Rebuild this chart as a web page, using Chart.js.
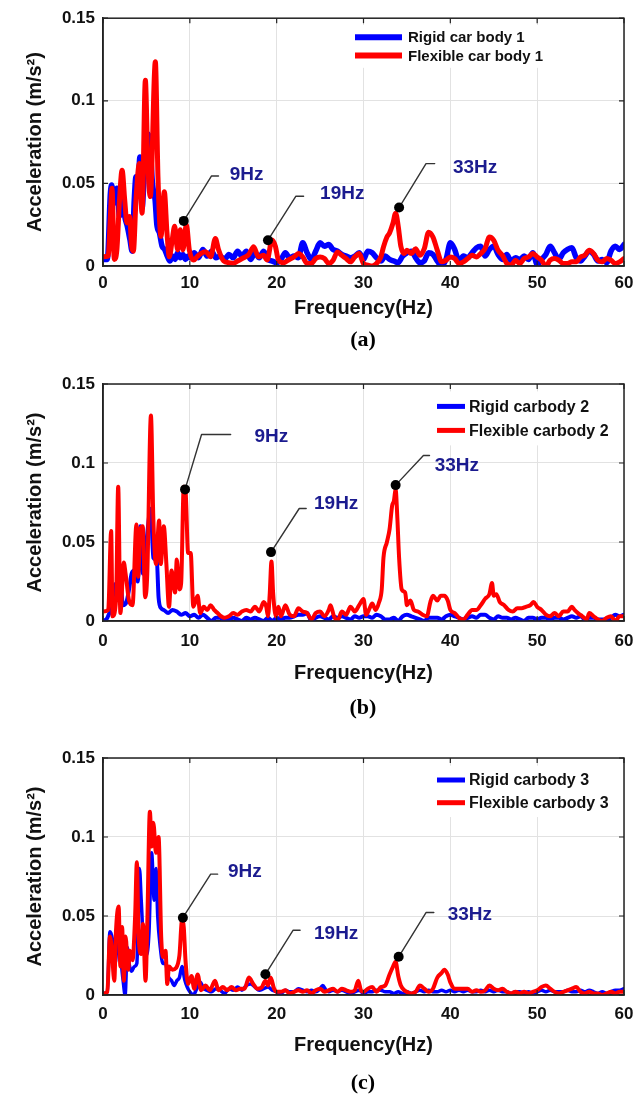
<!DOCTYPE html>
<html>
<head>
<meta charset="utf-8">
<script src="https://cdn.jsdelivr.net/npm/chart.js"></script>
<style>
  body { margin: 0; background: #fff; }
  #wrap { position: relative; width: 644px; height: 1096px; }
  canvas { position: absolute; left: 0; }
  .cap { position: absolute; left: 263px; width: 200px; text-align: center;
         font: bold 22px 'Liberation Serif', 'Times New Roman', serif; line-height: 24px; color: #000; }
</style>
</head>
<body>
<div id="wrap">
  <canvas id="ca" width="644" height="360" style="top:0"></canvas>
  <div class="cap" style="top:327px">(a)</div>
  <canvas id="cb" width="644" height="360" style="top:360px"></canvas>
  <div class="cap" style="top:695px">(b)</div>
  <canvas id="cc" width="644" height="376" style="top:720px"></canvas>
  <div class="cap" style="top:1070px">(c)</div>
</div>
<script>
// axis ticks
const freqTicks = [0, 10, 20, 30, 40, 50, 60];
const accTicks = [0, 0.05, 0.1, 0.15];
const accTickLabels = ['0', '0.05', '0.1', '0.15'];
const peakLabels = ['9Hz', '19Hz', '33Hz'];

// (a) [Hz, m/s^2]
const aNames = ['Rigid car body 1', 'Flexible car body 1'];
const aRigid = [[0,0.004],[0.5,0.004],[0.85,0.044],[1,0.049],[1.3,0.038],[1.6,0.047],[1.9,0.03],[2.2,0.045],[2.5,0.03],[2.8,0.024],[3.1,0.016],[3.35,0.009],[3.6,0.04],[3.8,0.054],[4,0.045],[4.25,0.066],[4.5,0.035],[4.8,0.06],[5.1,0.08],[5.4,0.075],[5.7,0.05],[6,0.04],[6.2,0.025],[6.5,0.02],[6.8,0.012],[7.1,0.01],[7.4,0.006],[7.7,0.003],[8,0.006],[8.3,0.004],[8.6,0.008],[8.9,0.005],[9.2,0.007],[9.5,0.004],[9.8,0.006],[10,0.005],[10.5,0.008],[11,0.005],[11.5,0.01],[12,0.006],[12.5,0.009],[13,0.005],[13.5,0.006],[14,0.004],[14.5,0.007],[15,0.005],[15.5,0.009],[16,0.006],[16.5,0.009],[17,0.004],[17.5,0.008],[18,0.005],[18.5,0.009],[19,0.004],[19.5,0.003],[20,0.002],[20.5,0.004],[21,0.008],[21.5,0.005],[22,0.006],[22.5,0.005],[23,0.014],[23.5,0.008],[24,0.004],[24.5,0.009],[25,0.014],[25.5,0.012],[26,0.013],[26.5,0.01],[27,0.009],[27.5,0.007],[28,0.006],[28.5,0.005],[29,0.006],[29.5,0.008],[30,0.004],[30.5,0.009],[31,0.008],[31.5,0.005],[32,0.003],[32.5,0.006],[33,0.004],[33.5,0.003],[34,0.002],[34.5,0.006],[35,0.008],[35.5,0.009],[36,0.005],[36.5,0.002],[37,0.003],[37.5,0.008],[38,0.007],[38.5,0.003],[39,0],[39.5,0.004],[40,0.014],[40.5,0.01],[41,0.003],[41.5,0.006],[42,0.005],[42.5,0.008],[43,0.011],[43.5,0.012],[44,0.006],[44.5,0.01],[45,0.012],[45.5,0.007],[46,0.004],[46.5,0.007],[47,0.003],[47.5,0.005],[48,0.004],[48.5,0.006],[49,0.004],[49.5,0.008],[50,0.001],[50.5,0.004],[51,0.007],[51.5,0.012],[52,0.008],[52.5,0.004],[53,0.008],[53.5,0.01],[54,0.011],[54.5,0.005],[55,0.003],[55.5,0.006],[56,0.009],[56.5,0.007],[57,0.003],[57.5,0.004],[58,0.002],[58.5,0.009],[59,0.012],[59.5,0.01],[60,0.013]];
const aFlex = [[0,0.0056],[0.6,0.006],[0.85,0.03],[1.04,0.047],[1.3,0.004],[1.6,0.01],[1.9,0.04],[2.2,0.058],[2.5,0.04],[2.76,0.026],[3.05,0.03],[3.3,0.012],[3.5,0.009],[3.8,0.04],[4.19,0.062],[4.5,0.032],[4.88,0.1125],[5.15,0.064],[5.45,0.042],[6.03,0.1236],[6.33,0.054],[6.68,0.018],[7.06,0.045],[7.37,0.02],[7.64,0.0056],[7.95,0.015],[8.25,0.024],[8.6,0.0097],[8.9,0.022],[9.2,0.0097],[9.6,0.025],[9.94,0.0097],[10.44,0.0036],[10.83,0.0056],[11.3,0.0077],[11.8,0.0087],[12.4,0.0056],[12.94,0.0167],[13.3,0.01],[13.9,0.003],[14.5,0.002],[15,0.0015],[15.5,0.003],[16.2,0.005],[16.8,0.007],[17.35,0.0117],[17.9,0.0056],[18.5,0.0065],[18.9,0.0036],[19.46,0.0157],[19.85,0.012],[20.2,0.0036],[20.8,0.002],[21.3,0.0035],[22,0.0055],[22.5,0.0075],[23,0.0055],[23.5,0.0015],[24,0.0015],[24.5,0.0045],[25,0.0055],[25.5,0.0045],[26,0.0015],[26.5,0.0035],[27,0.0085],[27.5,0.0065],[28,0.0045],[28.5,0.0025],[29,0.0055],[29.5,0.0075],[30,0.0015],[30.5,0.0005],[31,0],[31.5,0.0015],[32,0.0055],[32.3,0.0115],[32.7,0.0175],[33,0.02],[33.4,0.026],[33.7,0.032],[34,0.024],[34.3,0.012],[34.7,0.0075],[35,0.0095],[35.5,0.0075],[36,0.0105],[36.5,0.0065],[37,0.0105],[37.5,0.0205],[38,0.0175],[38.5,0.0095],[39,0.0025],[39.5,0.0035],[40,0.0055],[40.5,0.0045],[41,0.0015],[41.5,0.0025],[42,0.0045],[42.5,0.0065],[43,0.0055],[43.5,0.0075],[44,0.0105],[44.5,0.0175],[45,0.0155],[45.5,0.0095],[46,0.0065],[46.5,0.0015],[47,0.0005],[47.5,0.0035],[48,0.0015],[48.5,0.0045],[49,0.0055],[49.5,0.0075],[50,0.0055],[50.5,0.0035],[51,0],[51.5,0.0035],[52,0.0045],[52.5,0.0035],[53,0.0015],[53.5,0.0015],[54,0.0025],[54.5,0.0025],[55,0.0055],[55.5,0.0065],[56,0.0095],[56.5,0.0075],[57,0.0035],[57.5,0.0025],[58,0.0045],[58.5,0.0035],[59,0.0015],[59.5,0.0025],[60,0.0045]];
const aPeaks = [[9.3,0.0273],[19.0,0.0156],[34.1,0.0354]];

// (b)
const bNames = ['Rigid carbody 2', 'Flexible carbody 2'];
const bRigid = [[0,0],[0.5,0.002],[1,0.01],[1.3,0.022],[1.6,0.024],[2,0.025],[2.3,0.01],[2.7,0.012],[3,0.02],[3.3,0.03],[3.6,0.032],[4,0.025],[4.3,0.06],[4.6,0.03],[5,0.05],[5.5,0.071],[5.8,0.04],[6.2,0.038],[6.4,0.015],[6.7,0.008],[7,0.007],[7.5,0.005],[8,0.007],[8.5,0.006],[9,0.004],[9.5,0.005],[10,0.003],[10.5,0.004],[11,0.002],[11.5,0.004],[12,0.002],[12.5,0],[13,0.002],[13.5,0.002],[14,0],[14.5,0.001],[15,0.002],[15.5,0.001],[16,0],[16.5,0.002],[17,0.001],[17.5,0.002],[18,0.001],[18.5,0],[19,0.002],[19.5,0],[20,0.002],[20.5,0.001],[21,0.002],[21.5,0.002],[22,0.003],[22.5,0.004],[23,0.004],[23.5,0.005],[24,0],[24.5,0.002],[25,0.003],[25.5,0.002],[26,0.001],[26.5,0.003],[27,0.002],[27.5,0.003],[28,0.002],[28.5,0.001],[29,0.003],[29.5,0.002],[30,0.003],[30.5,0.003],[31,0.002],[31.5,0.004],[32,0.003],[32.5,0.001],[33,0.001],[33.5,0.002],[34,0],[34.5,0.003],[35,0.004],[35.5,0.003],[36,0.002],[36.5,0.001],[37,0],[37.5,0.002],[38,0.002],[38.5,0.002],[39,0.001],[39.5,0.003],[40,0.004],[40.5,0.003],[41,0.002],[41.5,0.001],[42,0.002],[42.5,0.003],[43,0.002],[43.5,0.004],[44,0.004],[44.5,0.002],[45,0.001],[45.5,0.003],[46,0.002],[46.5,0.002],[47,0.001],[47.5,0.002],[48,0.001],[48.5,0],[49,0.002],[49.5,0.002],[50,0.001],[50.5,0.002],[51,0.002],[51.5,0.001],[52,0.002],[52.5,0.002],[53,0.001],[53.5,0.002],[54,0.003],[54.5,0.002],[55,0.003],[55.5,0.001],[56,0.002],[56.5,0.002],[57,0.001],[57.5,0.001],[58,0.001],[58.5,0.002],[59,0.004],[59.5,0.003],[60,0.004]];
const bFlex = [[0,0.006],[0.6,0.007],[0.94,0.057],[1.1,0.003],[1.5,0.013],[1.75,0.085],[2,0.005],[2.4,0.037],[2.6,0.03],[3,0.013],[3.4,0.01],[3.85,0.061],[4.05,0.028],[4.3,0.058],[4.58,0.06],[4.85,0.015],[5.1,0.03],[5.52,0.13],[5.8,0.064],[6.1,0.036],[6.46,0.0636],[6.65,0.036],[7,0.06],[7.3,0.036],[7.6,0.009],[7.9,0.032],[8.3,0.018],[8.5,0.039],[8.8,0.02],[9,0.024],[9.3,0.085],[9.5,0.083],[9.8,0.043],[10.1,0.043],[10.4,0.009],[10.9,0.016],[11.2,0.005],[11.6,0.009],[12,0.007],[12.4,0.01],[12.8,0.007],[13.2,0.005],[13.6,0.003],[14,0.002],[14.5,0.003],[15,0.005],[15.5,0.004],[16,0.006],[16.5,0.007],[17,0.006],[17.5,0.009],[18,0.006],[18.5,0.012],[18.8,0.009],[19,0.003],[19.2,0.017],[19.4,0.0376],[19.6,0.017],[19.9,0.003],[20.2,0.009],[20.5,0.003],[21,0.01],[21.5,0.004],[22,0.003],[22.5,0.008],[23,0.006],[23.5,0.005],[24,0.001],[24.5,0.005],[25,0.006],[25.5,0.003],[26,0.007],[26.2,0.01],[26.6,0.003],[27,0],[27.5,0.006],[28,0.004],[28.5,0.009],[29,0.006],[29.5,0.01],[30,0.014],[30.3,0.004],[30.7,0.008],[31,0.011],[31.4,0.007],[31.8,0.012],[32.1,0.02],[32.3,0.04],[32.7,0.05],[33,0.058],[33.3,0.073],[33.5,0.076],[33.7,0.083],[33.9,0.065],[34.1,0.04],[34.4,0.02],[34.8,0.018],[35,0.01],[35.4,0.013],[35.8,0.007],[36.3,0.006],[36.8,0.004],[37.3,0.003],[37.7,0.012],[38,0.016],[38.5,0.013],[38.9,0.016],[39.3,0.016],[39.7,0.013],[40,0.007],[40.5,0.005],[41,0.002],[41.5,0.001],[42,0.004],[42.5,0.007],[43,0.007],[43.5,0.01],[44,0.014],[44.5,0.017],[44.8,0.024],[45,0.016],[45.3,0.017],[45.7,0.012],[46.2,0.01],[46.7,0.007],[47.2,0.006],[47.7,0.008],[48.2,0.008],[48.7,0.009],[49.2,0.01],[49.6,0.012],[50,0.009],[50.5,0.007],[51,0.004],[51.5,0.003],[52,0.005],[52.5,0.003],[53,0.006],[53.5,0.006],[54,0.009],[54.3,0.007],[54.7,0.005],[55.2,0.003],[55.7,0.001],[56,0.005],[56.5,0.003],[57,0.001],[57.5,0],[58,0.002],[58.5,0.003],[59,0],[59.5,0.003],[60,0.003]];
const bPeaks = [[9.45,0.0833],[19.35,0.0436],[33.7,0.086]];

// (c)
const cNames = ['Rigid carbody 3', 'Flexible carbody 3'];
const cRigid = [[0,0.001],[0.5,0.002],[0.8,0.04],[1.1,0.035],[1.4,0.02],[1.7,0.035],[2,0.025],[2.3,0.01],[2.55,0],[2.8,0.03],[3,0.02],[3.3,0.015],[3.6,0.018],[3.9,0.02],[4.2,0.08],[4.4,0.06],[4.7,0.03],[5,0.025],[5.3,0.04],[5.6,0.09],[5.9,0.06],[6.1,0.08],[6.3,0.05],[6.6,0.03],[6.9,0.02],[7.2,0.02],[7.5,0.012],[7.9,0.009],[8.2,0.006],[8.5,0.009],[8.8,0.011],[9.1,0.018],[9.4,0.01],[9.7,0.005],[10,0.002],[10.4,0],[10.8,0.004],[11.2,0.008],[11.6,0.004],[12,0.003],[12.5,0.002],[13,0.004],[13.5,0.003],[14,0.001],[14.5,0.004],[15,0.003],[15.5,0.005],[16,0.003],[16.5,0.006],[17,0.007],[17.5,0.005],[18,0.003],[18.5,0.004],[19,0.005],[19.5,0.003],[20,0.002],[20.5,0.001],[21,0.003],[21.5,0.002],[22,0.002],[22.5,0.004],[23,0.003],[23.5,0.002],[24,0.003],[24.5,0.002],[25,0.004],[25.3,0.006],[25.7,0.003],[26,0.002],[26.5,0.003],[27,0.002],[27.5,0.003],[28,0.002],[28.5,0.001],[29,0.002],[29.5,0.003],[30,0.001],[30.5,0.002],[31,0.002],[31.5,0.003],[32,0.003],[32.5,0.002],[33,0.002],[33.5,0.001],[34,0.002],[34.5,0.001],[35,0.002],[35.5,0.001],[36,0.002],[36.5,0.003],[37,0.002],[37.5,0.003],[38,0.002],[38.5,0.002],[39,0.003],[39.5,0.002],[40,0.003],[40.5,0.002],[41,0.003],[41.5,0.002],[42,0.003],[42.5,0.002],[43,0.002],[43.5,0.003],[44,0.002],[44.5,0.003],[45,0.002],[45.5,0.003],[46,0.002],[46.5,0.002],[47,0.001],[47.5,0.002],[48,0.002],[48.5,0.001],[49,0.002],[49.5,0.001],[50,0.002],[50.5,0.003],[51,0.002],[51.5,0.003],[52,0.002],[52.5,0.002],[53,0.002],[53.5,0.003],[54,0.002],[54.5,0.002],[55,0.003],[55.5,0.002],[56,0.003],[56.5,0.002],[57,0.001],[57.5,0.002],[58,0.001],[58.5,0.002],[59,0.003],[59.5,0.003],[60,0.004]];
const cFlex = [[0,0.001],[0.5,0.002],[0.8,0.037],[1,0.03],[1.3,0.009],[1.5,0.041],[1.8,0.056],[2,0.018],[2.2,0.043],[2.4,0.009],[2.6,0.037],[2.9,0.016],[3.1,0.028],[3.4,0.022],[3.7,0.05],[3.9,0.084],[4.1,0.037],[4.4,0.026],[4.6,0.045],[4.9,0.009],[5.1,0.045],[5.4,0.116],[5.6,0.094],[5.8,0.109],[6.1,0.09],[6.4,0.1],[6.7,0.037],[6.9,0.024],[7.2,0.028],[7.4,0.007],[7.6,0.018],[8,0.016],[8.4,0.017],[8.8,0.025],[9.1,0.047],[9.3,0.043],[9.5,0.022],[9.8,0.007],[10.2,0.012],[10.5,0.004],[10.9,0.013],[11.3,0.003],[11.8,0.006],[12.3,0.003],[12.9,0.009],[13.3,0.003],[13.8,0.005],[14.3,0.003],[14.8,0.005],[15.3,0.003],[15.8,0.004],[16.3,0.004],[16.8,0.011],[17.3,0.007],[17.8,0.004],[18.3,0.005],[18.7,0.009],[19,0.006],[19.3,0.011],[19.7,0.004],[20,0.002],[20.5,0.002],[21,0.003],[21.5,0.001],[22,0.002],[22.5,0.003],[23,0.002],[23.5,0.003],[24,0.001],[24.5,0.003],[25,0.004],[25.5,0.002],[26,0.003],[26.5,0.004],[27,0.002],[27.5,0.004],[28,0.003],[28.5,0.002],[29,0.003],[29.4,0.009],[29.7,0.003],[30,0.002],[30.5,0.004],[31,0.005],[31.5,0.002],[32,0.005],[32.5,0.006],[33,0.013],[33.4,0.018],[33.7,0.021],[34,0.012],[34.3,0.006],[34.7,0.003],[35,0.002],[35.5,0.001],[36,0.002],[36.5,0.006],[37,0.004],[37.5,0.002],[38,0.004],[38.5,0.011],[39,0.014],[39.3,0.016],[39.7,0.013],[40,0.008],[40.5,0.004],[41,0.004],[41.5,0.004],[42,0.004],[42.5,0.002],[43,0.003],[43.5,0.002],[44,0.003],[44.5,0.006],[45,0.004],[45.5,0.003],[46,0.004],[46.5,0.002],[47,0.001],[47.5,0.002],[48,0.001],[48.5,0.002],[49,0.001],[49.5,0.002],[50,0.003],[50.5,0.005],[51,0.006],[51.5,0.004],[52,0.002],[52.5,0.001],[53,0.002],[53.5,0.003],[54,0.004],[54.5,0.005],[55,0.002],[55.5,0.001],[56,0.002],[56.5,0.001],[57,0.001],[57.5,0],[58,0.001],[58.5,0.002],[59,0.001],[59.5,0.002],[60,0.002]];
const cPeaks = [[9.2,0.0489],[18.7,0.0131],[34.05,0.0242]];

const FONT = "'Liberation Sans', Arial, sans-serif";
const xy = arr => arr.map(p => ({ x: p[0], y: p[1] }));

// frame box + inward tick marks like matlab
const frame = {
  id: 'frame',
  afterDatasetsDraw(chart) {
    const { ctx, chartArea: a, scales: { x, y } } = chart;
    ctx.save();
    ctx.strokeStyle = '#222';
    ctx.lineWidth = 1.5;
    ctx.strokeRect(a.left, a.top, a.width, a.height);
    ctx.lineWidth = 1.2;
    ctx.beginPath();
    x.ticks.forEach(t => {
      const p = x.getPixelForValue(t.value);
      ctx.moveTo(p, a.bottom); ctx.lineTo(p, a.bottom - 5);
      ctx.moveTo(p, a.top); ctx.lineTo(p, a.top + 5);
    });
    y.ticks.forEach(t => {
      const p = y.getPixelForValue(t.value);
      ctx.moveTo(a.left, p); ctx.lineTo(a.left + 5, p);
      ctx.moveTo(a.right, p); ctx.lineTo(a.right - 5, p);
    });
    ctx.stroke();
    ctx.restore();
  }
};

const legendBox = {
  id: 'legendBox',
  beforeDatasetsDraw(chart, args, o) {
    const { ctx, chartArea: a } = chart;
    const items = chart.data.datasets.filter(d => d.inLegend);
    ctx.save();
    ctx.font = `bold ${o.size}px ${FONT}`;
    const tw = Math.max(...items.map(d => ctx.measureText(d.label).width));
    ctx.fillStyle = '#fff';
    ctx.fillRect(a.left + o.x - 6, a.top + o.y - o.row / 2 - 3, o.len + o.gap + tw + 10, o.row * items.length + 6);
    ctx.restore();
  },
  afterDatasetsDraw(chart, args, o) {
    const { ctx, chartArea: a } = chart;
    const items = chart.data.datasets.filter(d => d.inLegend);
    ctx.save();
    ctx.font = `bold ${o.size}px ${FONT}`;
    ctx.textBaseline = 'middle';
    items.forEach((d, i) => {
      const x0 = a.left + o.x, y0 = a.top + o.y + i * o.row;
      ctx.strokeStyle = d.borderColor;
      ctx.lineWidth = o.lw;
      ctx.beginPath(); ctx.moveTo(x0, y0); ctx.lineTo(x0 + o.len, y0); ctx.stroke();
      ctx.fillStyle = '#111';
      ctx.fillText(d.label, x0 + o.len + o.gap, y0 + 1);
    });
    ctx.restore();
  }
};

const peakText = {
  id: 'peakText',
  afterDatasetsDraw(chart, args, o) {
    const { ctx, scales: { x, y } } = chart;
    ctx.save();
    ctx.font = `bold 19px ${FONT}`;
    ctx.fillStyle = '#1b1b8f';
    ctx.textBaseline = 'middle';
    o.at.forEach((p, i) => ctx.fillText(peakLabels[i], x.getPixelForValue(p[0]), y.getPixelForValue(p[1])));
    ctx.restore();
  }
};

function makePanel(id, names, rigid, flex, peaks, L) {
  const datasets = [
    { label: names[0], inLegend: true, data: xy(rigid), borderColor: '#0000ff', borderWidth: L.lw[0], order: 3 },
    { label: names[1], inLegend: true, data: xy(flex), borderColor: '#ff0000', borderWidth: L.lw[1], order: 2 },
    { label: 'peaks', data: xy(peaks), showLine: false, pointRadius: 5, pointBackgroundColor: '#000', pointBorderWidth: 0, order: 0 }
  ];
  peaks.forEach((p, i) => datasets.push({
    label: 'leader' + i, data: xy([p].concat(L.leaders[i])), borderColor: '#333', borderWidth: 1.4, order: 1, cubicInterpolationMode: 'default', tension: 0
  }));
  new Chart(document.getElementById(id), {
    type: 'line',
    data: { datasets },
    options: {
      responsive: false,
      animation: false,
      events: [],
      layout: { padding: { top: L.top, right: 20, left: 0, bottom: L.bottom } },
      elements: {
        point: { radius: 0 },
        line: { cubicInterpolationMode: 'monotone', borderJoinStyle: 'round', borderCapStyle: 'round' }
      },
      datasets: { line: { clip: 0 } },
      scales: {
        x: {
          type: 'linear', min: 0, max: 60,
          afterBuildTicks: s => { s.ticks = freqTicks.map(v => ({ value: v })); },
          afterFit: s => { s.height = L.xh; },
          ticks: { color: '#111', padding: L.tickPad, font: { family: FONT, size: 17, weight: 'bold' }, maxRotation: 0 },
          grid: { color: '#e2e2e2', drawTicks: false },
          border: { color: '#222', width: 1.5 },
          title: { display: true, text: 'Frequency(Hz)', color: '#111', padding: 0, font: { family: FONT, size: 20, weight: 'bold' } }
        },
        y: {
          min: 0, max: 0.15,
          afterBuildTicks: s => { s.ticks = accTicks.map(v => ({ value: v })); },
          afterFit: s => { s.width = 103; },
          ticks: { color: '#111', padding: 8, font: { family: FONT, size: 17, weight: 'bold' },
                   callback: (v) => accTickLabels[accTicks.indexOf(v)] },
          grid: { color: '#e2e2e2', drawTicks: false },
          border: { color: '#222', width: 1.5 },
          title: { display: true, text: 'Acceleration (m/s²)', color: '#111', padding: { top: 23, bottom: 0 }, font: { family: FONT, size: 20, weight: 'bold' } }
        }
      },
      plugins: {
        legend: { display: false },
        tooltip: { enabled: false },
        legendBox: L.legend,
        peakText: { at: L.textAt }
      }
    },
    plugins: [legendBox, frame, peakText]
  });
}

makePanel('ca', aNames, aRigid, aFlex, aPeaks, {
  top: 18, bottom: 40, xh: 54, tickPad: 7, lw: [5.5, 5],
  legend: { x: 252, y: 19, row: 18.4, len: 47, gap: 6, size: 15, lw: 6 },
  leaders: [[[12.5,0.0545],[13.3,0.0545]], [[22.2,0.0422],[23.1,0.0422]], [[37.2,0.062],[38.2,0.062]]],
  textAt: [[14.6,0.055],[25.0,0.0439],[40.3,0.0594]]
});
makePanel('cb', bNames, bRigid, bFlex, bPeaks, {
  top: 24, bottom: 35, xh: 64, tickPad: 10, lw: [4, 4],
  legend: { x: 334, y: 22.4, row: 24, len: 28, gap: 4, size: 16, lw: 5 },
  leaders: [[[11.35,0.118],[14.7,0.118]], [[22.6,0.0712],[23.4,0.0712]], [[36.9,0.1047],[37.6,0.1047]]],
  textAt: [[17.45,0.1163],[24.3,0.0742],[38.2,0.098]]
});
makePanel('cc', cNames, cRigid, cFlex, cPeaks, {
  top: 38, bottom: 39, xh: 62, tickPad: 9, lw: [3.5, 4],
  legend: { x: 334, y: 22, row: 22.7, len: 28, gap: 4, size: 16, lw: 5 },
  leaders: [[[12.4,0.0765],[13.2,0.0765]], [[21.9,0.041],[22.7,0.041]], [[37.2,0.0522],[38.1,0.0522]]],
  textAt: [[14.4,0.078],[24.3,0.039],[39.7,0.0506]]
});
</script>
</body>
</html>
